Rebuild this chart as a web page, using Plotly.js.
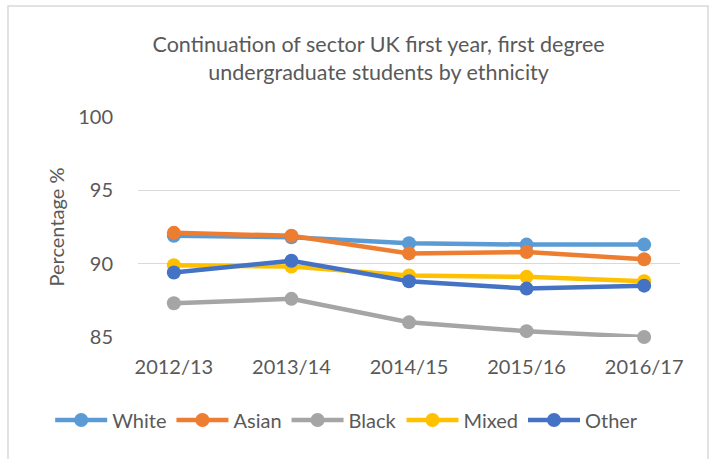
<!DOCTYPE html>
<html>
<head>
<meta charset="utf-8">
<script src="https://cdn.plot.ly/plotly-3.0.1.min.js"></script>
<style>
html,body{margin:0;padding:0;background:#fff;}
#chart{width:713px;height:459px;}
</style>
</head>
<body>
<div id="chart"></div>
<script>
const years = ["2012/13", "2013/14", "2014/15", "2015/16", "2016/17"];
const white = [91.9, 91.8, 91.4, 91.3, 91.3];
const asian = [92.1, 91.9, 90.7, 90.8, 90.3];
const black = [87.3, 87.6, 86.0, 85.4, 85.0];
const mixed = [89.9, 89.8, 89.2, 89.1, 88.8];
const other = [89.4, 90.2, 88.8, 88.3, 88.5];

const seriesNames = ["White", "Asian", "Black", "Mixed", "Other"];
const seriesData = [white, asian, black, mixed, other];
const seriesColors = ["#5B9BD5", "#ED7D31", "#A5A5A5", "#FFC000", "#4472C4"];

const FONT = "Lato, 'Open Sans', sans-serif";
const TXT = "#595959";

const traces = seriesNames.map((n, i) => ({
  type: "scatter",
  mode: "lines+markers",
  name: n,
  x: years,
  y: seriesData[i],
  line: {color: seriesColors[i], width: 4.5},
  marker: {color: seriesColors[i], size: 14},
  cliponaxis: false
}));

const layout = {
  width: 713,
  height: 459,
  margin: {l: 138, r: 33, t: 117, b: 122},
  paper_bgcolor: "#ffffff",
  plot_bgcolor: "#ffffff",
  font: {family: FONT, color: TXT, size: 20},
  title: {
    text: "Continuation of sector UK first year, first degree<br>undergraduate students by ethnicity",
    font: {family: FONT, size: 21.5, color: TXT},
    x: 0.531, xanchor: "center", y: 0.886, yanchor: "top"
  },
  showlegend: true,
  legend: {
    orientation: "h",
    xref: "paper", yref: "paper",
    x: -0.162, xanchor: "left",
    y: -0.377, yanchor: "middle",
    font: {family: FONT, size: 20, color: TXT},
    itemwidth: 52,
    tracegroupgap: 0
  },
  xaxis: {
    type: "category",
    showgrid: false,
    zeroline: false,
    showline: false,
    ticks: "outside",
    ticklen: 12,
    tickcolor: "rgba(0,0,0,0)",
    tickfont: {family: FONT, size: 20, color: TXT},
    fixedrange: true
  },
  yaxis: {
    range: [85, 100],
    dtick: 5,
    tick0: 85,
    showgrid: true,
    gridcolor: "#D9D9D9",
    gridwidth: 1.5,
    zeroline: false,
    showline: false,
    ticks: "outside",
    ticklen: 20,
    tickcolor: "rgba(0,0,0,0)",
    tickfont: {family: FONT, size: 20, color: TXT},
    title: {text: "Percentage %", font: {family: FONT, size: 20, color: TXT}, standoff: 8},
    fixedrange: true
  },
  shapes: [{
    type: "rect", xref: "paper", yref: "paper",
    x0: -0.2399, x1: 1.0517, y0: -0.65, y1: 1.5045,
    line: {color: "#D9D9D9", width: 1.5},
    fillcolor: "rgba(0,0,0,0)",
    layer: "below"
  }]
};

Plotly.newPlot("chart", traces, layout, {displayModeBar: false, staticPlot: true});
</script>
</body>
</html>
